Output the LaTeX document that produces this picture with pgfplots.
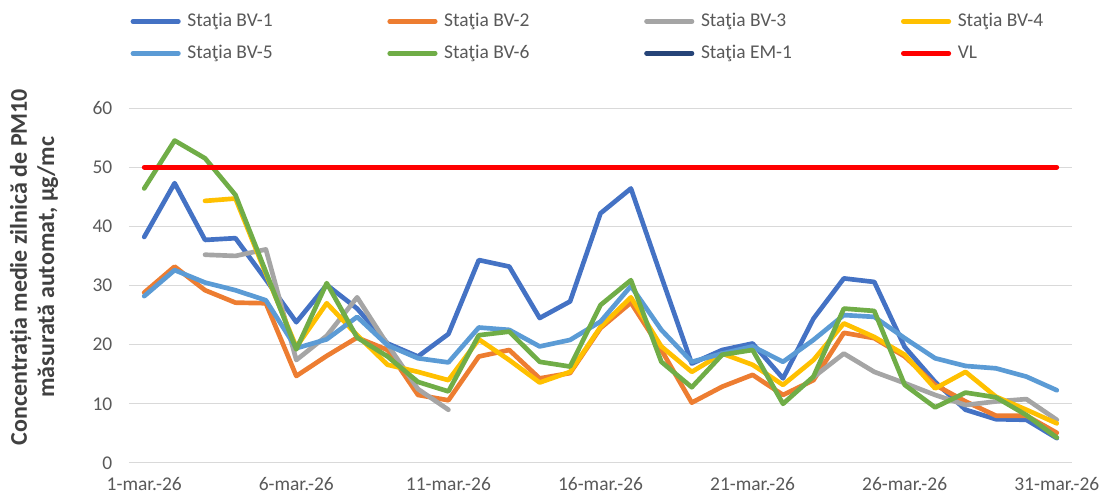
\documentclass[border=0pt]{standalone}
\usepackage{fontspec}
\setmainfont{Carlito}
\usepackage{pgfplots}
\pgfplotsset{compat=1.18}

\definecolor{bvA}{HTML}{4472C4}
\definecolor{bvB}{HTML}{ED7D31}
\definecolor{bvC}{HTML}{A5A5A5}
\definecolor{bvD}{HTML}{FFC000}
\definecolor{bvE}{HTML}{5B9BD5}
\definecolor{bvF}{HTML}{70AD47}
\definecolor{emA}{HTML}{264478}
\definecolor{gridc}{HTML}{D9D9D9}
\definecolor{txt}{HTML}{595959}

\newcommand{\lab}[1]{\makebox[150pt][l]{#1}}

\begin{document}
\begin{tikzpicture}
\useasboundingbox (-96.75pt,-27pt) rectangle (732pt,347.25pt);
\begin{axis}[
  scale only axis,
  width=707.25pt, height=266.25pt,
  xmin=0.5, xmax=31.5, ymin=0, ymax=60,
  axis x line*=bottom, axis y line*=left,
  x axis line style={draw=gridc, line width=0.75pt},
  y axis line style={draw=none},
  ytick={0,10,...,60},
  ymajorgrids, grid style={gridc, line width=0.75pt},
  ytick style={draw=none},
  xtick={1,6,11,16,21,26,31},
  xticklabels={1-mar.-26,6-mar.-26,11-mar.-26,16-mar.-26,21-mar.-26,26-mar.-26,31-mar.-26},
  xtick style={draw=none},
  extra x ticks={0.5,5.5,10.5,15.5,20.5,25.5,30.5},
  extra x tick labels={},
  extra x tick style={grid=none, major tick length=4.5pt, tick align=outside,
    tick style={draw=gridc, line width=0.75pt}},
  tick label style={font=\fontsize{14.6}{17}\selectfont, text=txt},
  /pgf/number format/assume math mode=true,
  yticklabel style={xshift=-9pt},
  xticklabel style={yshift=-7pt},
  ylabel={Concentrația medie zilnică de PM10\\măsurată automat, µg/mc},
  ylabel style={at={(axis description cs:-0.1007,0.552)}, anchor=center, align=center,
    font=\fontsize{18}{20.5}\selectfont\bfseries, text=black!75},
  legend style={at={(rel axis cs:0,1)}, anchor=south west, yshift=31.5pt, xshift=-2pt,
    draw=none, fill=none, legend columns=4, row sep=9.5pt,
    font=\fontsize{14.6}{17}\selectfont, text=txt,
    nodes={inner sep=0pt, text height=11pt, text depth=3.5pt},
    /tikz/every odd column/.append style={column sep=5pt}},
  legend cell align=left,
  legend image code/.code={\draw[#1, line cap=round] (1.7pt,0pt) -- (35.8pt,0pt);},
  every axis plot/.append style={line width=3.5pt, line join=round, line cap=round},
  unbounded coords=jump,
]
\addplot[bvA] coordinates {
(1,38.2) (2,47.3) (3,37.7) (4,38.0) (5,31.0) (6,23.8) (7,30.1) (8,26.1) (9,20.2) (10,18.0)
(11,21.8) (12,34.3) (13,33.2) (14,24.5) (15,27.3) (16,42.2) (17,46.4) (18,31.5) (19,16.8) (20,19.1)
(21,20.2) (22,14.3) (23,24.4) (24,31.2) (25,30.6) (26,19.6) (27,13.7) (28,9.0) (29,7.4) (30,7.3) (31,4.2)};
\addlegendentry{\lab{Staţia BV-1}}
\addplot[bvB] coordinates {
(1,28.8) (2,33.2) (3,29.2) (4,27.1) (5,27.0) (6,14.7) (7,18.1) (8,21.2) (9,19.1) (10,11.5)
(11,10.6) (12,18.0) (13,19.1) (14,14.3) (15,15.2) (16,22.8) (17,27.1) (18,19.1) (19,10.2) (20,12.9)
(21,14.9) (22,11.5) (23,14.0) (24,22.0) (25,21.1) (26,18.0) (27,13.2) (28,10.4) (29,8.0) (30,8.0) (31,5.1)};
\addlegendentry{\lab{Staţia BV-2}}
\addplot[bvC] coordinates {
(3,35.2) (4,35.0) (5,36.1) (6,17.4) (7,21.5) (8,28.0) (9,20.0) (10,12.5) (11,9.0) (12,nan)
(23,14.5) (24,18.5) (25,15.4) (26,13.5) (27,11.5) (28,9.8) (29,10.4) (30,10.8) (31,7.3)};
\addlegendentry{\lab{Staţia BV-3}}
\addplot[bvD] coordinates {
(3,44.3) (4,44.7) (5,32.0) (6,19.6) (7,27.0) (8,21.6) (9,16.6) (10,15.4)
(11,14.0) (12,20.9) (13,17.4) (14,13.6) (15,15.4) (16,23.0) (17,28.0) (18,19.7) (19,15.4) (20,18.5)
(21,16.6) (22,13.2) (23,17.4) (24,23.6) (25,21.3) (26,18.3) (27,12.6) (28,15.4) (29,11.2) (30,9.0) (31,6.7)};
\addlegendentry{Staţia BV-4}
\addplot[bvE] coordinates {
(1,28.2) (2,32.6) (3,30.5) (4,29.2) (5,27.5) (6,19.4) (7,20.9) (8,24.7) (9,19.9) (10,17.7)
(11,17.0) (12,22.9) (13,22.5) (14,19.7) (15,20.8) (16,23.9) (17,29.9) (18,22.5) (19,17.1) (20,18.5)
(21,19.7) (22,17.1) (23,20.8) (24,25.0) (25,24.7) (26,21.1) (27,17.7) (28,16.4) (29,16.0) (30,14.6) (31,12.3)};
\addlegendentry{\lab{Staţia BV-5}}
\addplot[bvF] coordinates {
(1,46.4) (2,54.5) (3,51.5) (4,45.3) (5,32.3) (6,19.2) (7,30.4) (8,21.2) (9,18.0) (10,13.7)
(11,12.1) (12,21.6) (13,22.2) (14,17.1) (15,16.3) (16,26.7) (17,30.9) (18,17.1) (19,12.8) (20,18.3)
(21,19.1) (22,10.0) (23,14.6) (24,26.1) (25,25.7) (26,13.2) (27,9.4) (28,11.9) (29,11.1) (30,8.1) (31,4.3)};
\addlegendentry{\lab{Staţia BV-6}}
\addlegendimage{emA, line width=3.5pt}
\addlegendentry{\lab{Staţia EM-1}}
\addplot[red] coordinates {(1,50) (31,50)};
\addlegendentry{VL}
\end{axis}
\end{tikzpicture}
\end{document}
